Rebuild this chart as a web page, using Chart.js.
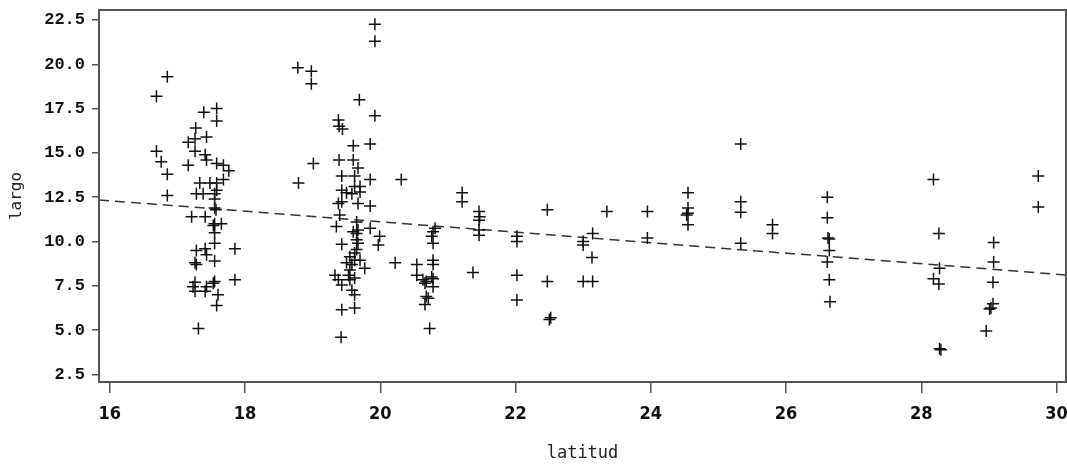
<!DOCTYPE html>
<html>
<head>
<meta charset="utf-8">
<script src="https://cdn.jsdelivr.net/npm/chart.js@4.4.1/dist/chart.umd.min.js"></script>
<style>
  body { margin: 0; background: #fff; }
</style>
</head>
<body>
<canvas id="grafica" width="1067" height="467"></canvas>
<script>
// datos
const latitud = [
  16.69, 16.85, 16.69, 16.76, 16.85, 16.85,
  17.39, 17.58, 17.58, 17.27, 17.16, 17.26, 17.43, 17.26, 17.41, 17.43, 17.16, 17.58, 17.68, 17.76,
  17.33, 17.48, 17.58, 17.68, 17.28, 17.38, 17.55, 17.58, 17.55, 17.55, 17.57, 17.21, 17.41, 17.55,
  17.65, 17.53, 17.55, 17.55, 17.28, 17.41, 17.85, 17.43, 17.28, 17.26, 17.55, 17.26, 17.23, 17.26,
  17.43, 17.41, 17.55, 17.53, 17.85, 17.60, 17.58, 17.31,
  18.78, 18.79, 18.98, 18.98, 19.01,
  19.92, 19.92, 19.69, 19.92, 19.38, 19.39, 19.44, 19.60, 19.85, 19.39, 19.60, 19.67, 19.43, 19.62,
  19.85, 20.31, 19.43, 19.50, 19.62, 19.70, 19.58, 19.70, 19.38, 19.43, 19.67, 19.85, 19.40, 19.65,
  19.35, 19.85, 19.60, 19.65, 19.67, 19.99, 19.65, 19.67, 19.43, 19.97, 19.65, 19.62, 19.55, 19.62,
  19.70, 19.50, 19.58, 19.77, 19.55, 20.22, 19.33, 19.38, 19.53, 19.55, 19.62, 19.43, 19.58, 19.62,
  19.43, 19.62, 19.42,
  20.78, 20.81, 20.76, 20.78, 20.78, 20.54, 20.78, 20.54, 20.63, 20.68, 20.76, 20.78, 20.66, 20.78,
  20.68, 20.71, 20.66, 20.73,
  21.21, 21.21, 21.37,
  21.46, 21.47, 21.46, 21.46, 21.46,
  22.02, 22.02, 22.02, 22.02,
  22.47, 22.47, 22.52, 22.50,
  23.00, 23.00, 23.14, 23.13, 23.00, 23.14,
  23.35, 23.95, 23.95,
  24.55, 24.55, 24.53, 24.55, 24.55,
  25.33, 25.33, 25.33, 25.33,
  25.80, 25.80,
  26.61, 26.61, 26.62, 26.64, 26.64, 26.61, 26.64, 26.65,
  28.18, 28.26, 28.27, 28.18, 28.26, 28.27, 28.29,
  29.07, 29.07, 29.06, 29.06, 29.03, 29.01, 28.96,
  29.73, 29.73
];
const largo = [
  18.2, 19.3, 15.1, 14.5, 13.8, 12.6,
  17.3, 17.5, 16.8, 16.4, 15.6, 15.8, 15.9, 15.1, 14.9, 14.6, 14.3, 14.4, 14.3, 14.0,
  13.3, 13.3, 13.3, 13.5, 12.7, 12.7, 12.7, 12.9, 12.4, 11.9, 11.8, 11.4, 11.4, 11.0,
  11.0, 10.9, 10.5, 9.9, 9.5, 9.6, 9.6, 9.25, 8.7, 8.8, 8.9, 7.7, 7.45, 7.2,
  7.45, 7.2, 7.75, 7.65, 7.85, 7.0, 6.4, 5.1,
  19.8, 13.3, 19.6, 18.9, 14.4,
  22.25, 21.3, 18.0, 17.1, 16.85, 16.5, 16.35, 15.4, 15.5, 14.6, 14.6, 14.15, 13.7, 13.7,
  13.5, 13.5, 12.9, 12.75, 13.1, 13.1, 12.7, 12.8, 12.15, 12.25, 12.15, 12.0, 11.5, 11.1,
  10.85, 10.75, 10.55, 10.45, 10.65, 10.3, 10.1, 9.9, 9.85, 9.8, 9.55, 9.35, 9.15, 8.95,
  8.95, 8.8, 8.7, 8.5, 8.4, 8.8, 8.1, 7.85, 8.1, 7.85, 7.95, 7.55, 7.25, 7.0,
  6.15, 6.25, 4.6,
  10.55, 10.75, 10.3, 9.9, 8.95, 8.7, 8.7, 8.1, 7.85, 7.75, 8.0, 7.9, 7.65, 7.45,
  6.9, 6.8, 6.45, 5.1,
  12.75, 12.25, 8.25,
  11.7, 11.4, 11.2, 10.65, 10.35,
  10.3, 10.0, 8.1, 6.7,
  11.8, 7.75, 5.7, 5.6,
  10.0, 9.8, 10.45, 9.1, 7.75, 7.75,
  11.7, 11.7, 10.2,
  12.75, 11.9, 11.5, 11.6, 10.95,
  15.5, 12.25, 11.65, 9.9,
  10.95, 10.45,
  12.5, 11.35, 10.2, 10.15, 9.5, 8.85, 7.85, 6.6,
  13.5, 10.45, 8.5, 7.9, 7.6, 3.95, 3.9,
  9.95, 8.85, 7.7, 6.5, 6.25, 6.2, 4.95,
  13.7, 11.95
];
// recta de regresion (extremos)
const rectaX = [15.84, 30.14];
const rectaY = [12.35, 8.12];

const xTicks = [16, 18, 20, 22, 24, 26, 28, 30];
const yTicks = [2.5, 5.0, 7.5, 10.0, 12.5, 15.0, 17.5, 20.0, 22.5];

// marco completo alrededor del area
const marco = {
  id: 'marco',
  afterDraw(chart) {
    const a = chart.chartArea;
    const ctx = chart.ctx;
    ctx.save();
    ctx.strokeStyle = '#555';
    ctx.lineWidth = 2;
    ctx.strokeRect(a.left, a.top, a.right - a.left, a.bottom - a.top);
    ctx.restore();
  }
};

new Chart(document.getElementById('grafica'), {
  type: 'scatter',
  data: {
    datasets: [
      {
        label: 'largo',
        data: latitud.map((x, i) => ({ x: x, y: largo[i] })),
        pointStyle: 'cross',
        pointRadius: 6,
        pointHoverRadius: 6,
        borderColor: '#111',
        borderWidth: 1.5,
        backgroundColor: '#111'
      },
      {
        type: 'line',
        label: 'recta',
        data: rectaX.map((x, i) => ({ x: x, y: rectaY[i] })),
        borderColor: '#333',
        borderWidth: 1.5,
        borderDash: [10, 6],
        pointRadius: 0,
        fill: false
      }
    ]
  },
  options: {
    responsive: false,
    animation: false,
    devicePixelRatio: 1,
    layout: { autoPadding: false, padding: { left: 0, right: 1, top: 10, bottom: 0 } },
    plugins: {
      legend: { display: false },
      tooltip: { enabled: false }
    },
    scales: {
      x: {
        type: 'linear',
        min: 15.84,
        max: 30.14,
        afterFit: s => { s.height = 85; s.paddingLeft = 0; s.paddingRight = 0; },
        afterBuildTicks: s => { s.ticks = xTicks.map(v => ({ value: v })); },
        grid: { drawOnChartArea: false, drawTicks: true, tickLength: 11, color: '#555', lineWidth: 1.5 },
        border: { display: false },
        ticks: {
          padding: 11,
          color: '#111',
          maxRotation: 0,
          font: { family: "'Liberation Sans Narrow', 'DejaVu Sans Condensed', 'Liberation Sans'", size: 18, weight: 'bold' },
          callback: v => String(v)
        },
        title: {
          display: true,
          text: 'latitud',
          color: '#222',
          padding: { top: 0, bottom: 3 },
          font: { family: "'DejaVu Sans Mono'", size: 17 }
        }
      },
      y: {
        type: 'linear',
        min: 2.08,
        max: 23.06,
        afterFit: s => { s.width = 99; s.paddingTop = 0; s.paddingBottom = 0; },
        afterBuildTicks: s => { s.ticks = yTicks.map(v => ({ value: v })); },
        grid: { drawOnChartArea: false, drawTicks: true, tickLength: 7, color: '#555', lineWidth: 1.5 },
        border: { display: false },
        ticks: {
          padding: 7,
          color: '#111',
          font: { family: "'Liberation Mono', 'DejaVu Sans Mono'", size: 17, weight: 'bold' },
          callback: v => v.toFixed(1)
        },
        title: {
          display: true,
          text: 'largo',
          color: '#222',
          padding: { top: 7, bottom: 0 },
          font: { family: "'DejaVu Sans Mono'", size: 16 }
        }
      }
    }
  },
  plugins: [marco]
});
</script>
</body>
</html>
